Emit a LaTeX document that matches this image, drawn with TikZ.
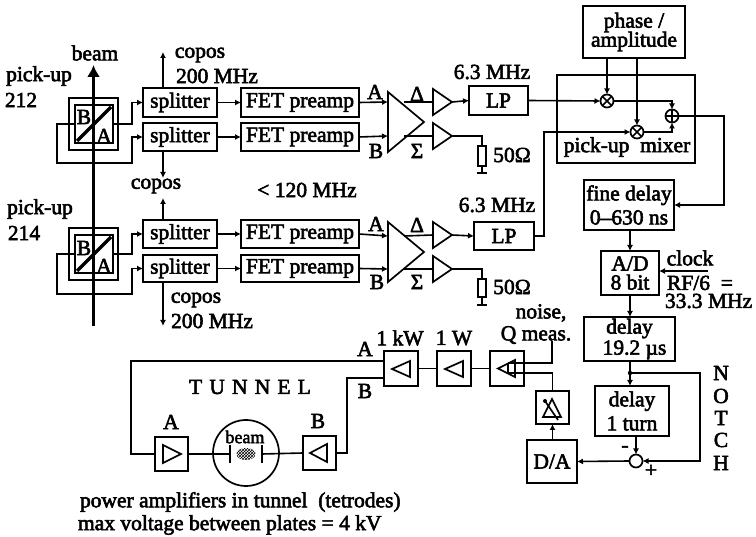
\documentclass[tikz,border=0pt]{standalone}
\usepackage{fontspec}
\setmainfont[FakeBold=2.6]{Liberation Serif}
\usetikzlibrary{arrows.meta,shapes.geometric,patterns,calc}
\newcommand{\bx}[6]{%
  \pgfmathsetmacro{\bxcx}{(#2+#4)/2}\pgfmathsetmacro{\bxcy}{(#3+#5)/2}%
  \pgfmathsetmacro{\bxw}{#4-#2}\pgfmathsetmacro{\bxh}{#5-#3}%
  \node[boxnode,minimum width=\bxw pt,minimum height=\bxh pt] (#1) at (\bxcx,\bxcy) {#6};}
\tikzset{
  every node/.style={font=\fontsize{21.5}{20}\selectfont,inner sep=0pt,outer sep=0pt},
  ln/.style={line width=1.6pt,line join=miter},
  ar/.style={ln,-{Latex[length=6pt,width=6pt]}},
  boxnode/.style={draw,line width=1.7pt,align=center},
  lab/.style={align=center},
  mixnode/.style={draw,circle,line width=1.7pt,minimum size=13pt},
  ampbase/.style={draw,line width=1.7pt,isosceles triangle,isosceles triangle stretches,anchor=apex},
  ampr/.style 2 args={ampbase,minimum width=#1 pt,minimum height=#2 pt},
  ampl/.style 2 args={ampbase,shape border rotate=180,minimum width=#1 pt,minimum height=#2 pt},
}
\begin{document}
\begin{tikzpicture}[x=1pt,y=-1pt]
\useasboundingbox (0,0) rectangle (756,537);
% labels
\node[lab] (pu1a) at (39,76) {pick-up};
\node[lab] (pu1b) at (21,100) {212};
\node[lab] (pu2a) at (40,209) {pick-up};
\node[lab] (pu2b) at (24,233) {214};
\node[lab] (beamlab) at (95,53) {beam};
% pick-up 212
\bx{po1}{69}{98}{118}{150}{}
\bx{pi1}{75}{105}{113}{143}{}
\node (pB1) at (84,117) {B};
\node (pA1) at (104,136) {A};
\coordinate (d1a) at (77,141); \coordinate (d1b) at (111,107);
\draw[line width=3.4pt] (d1a) -- (d1b);
% pick-up 214
\bx{po2}{69}{228}{118}{280}{}
\bx{pi2}{75}{235}{113}{273}{}
\node (pB2) at (84,248) {B};
\node (pA2) at (104,266) {A};
\coordinate (d2a) at (77,271); \coordinate (d2b) at (111,237);
\draw[line width=3.4pt] (d2a) -- (d2b);
% beam
\coordinate (bm0) at (93.5,326); \coordinate (bm1) at (93.5,65);
\draw[line width=2.2pt,-{Latex[length=12pt,width=13pt]}] (bm0) -- (bm1);
% splitters
\bx{sp1}{143}{88}{217}{117}{splitter}
\bx{sp2}{143}{123}{217}{151}{splitter}
\bx{sp3}{143}{220}{217}{248}{splitter}
\bx{sp4}{143}{255}{217}{282}{splitter}
\bx{fe1}{241}{88}{359}{117}{FET preamp}
\bx{fe2}{241}{123}{359}{151}{FET preamp}
\bx{fe3}{241}{220}{359}{248}{FET preamp}
\bx{fe4}{241}{255}{359}{282}{FET preamp}
\foreach \i in {1,2,3,4}{\draw[ar] (sp\i.east) -- (fe\i.west);}
% pick-up connections
\coordinate (a1) at (113,124); \coordinate (l1) at (75,124);
\draw[ar] (a1) -| (132,102.5) -- (sp1.west);
\draw[ar] (l1) -- (57,124) |- (132,163) |- (sp2.west);
\coordinate (a2) at (113,254); \coordinate (l2) at (75,254);
\draw[ar] (a2) -| (132,234) -- (sp3.west);
\draw[ar] (l2) -- (57,254) |- (132,294) |- (sp4.west);
% copos
\coordinate (c1) at (163,52); \coordinate (c2) at (163,178);
\coordinate (c3) at (163,198); \coordinate (c4) at (163,326);
\draw[ar] (sp1.north -| c1) -- (c1);
\draw[ar] (sp2.south -| c2) -- (c2);
\draw[ar] (sp3.north -| c3) -- (c3);
\draw[ar] (sp4.south -| c4) -- (c4);
\node[lab] (cl1) at (200,55) {copos};
\node[lab] (cl1b) at (217,76) {200 MHz};
\node[lab] (cl2) at (156,186) {copos};
\node[lab] (cl4) at (196,300) {copos};
\node[lab] (cl4b) at (212,321) {200 MHz};
\node[lab] (lt) at (307,190) {< 120 MHz};
% differential amps
\foreach \n/\top/\ya/\yb/\yc in {U/92/102/136/122,L/222/236/269/252}{
  \pgfmathsetmacro{\bot}{\top+60}
  \coordinate (t\n) at (388,\top); \coordinate (b\n) at (388,\bot); \coordinate (ap\n) at (424,\yc);
  \draw[line width=1.7pt,line join=miter] (t\n) -- (ap\n) -- (b\n) -- cycle;
  \coordinate (ia\n) at (388,\ya); \coordinate (ib\n) at (388,\yb);
  \coordinate (od\n) at (404,\ya); \coordinate (os\n) at (404,\yb);
}
\draw[ar] (fe1.east) -- (iaU);
\draw[ar] (fe2.east) -- (ibU);
\draw[ar] (fe3.east) -- (iaL);
\draw[ar] (fe4.east) -- (ibL);
\node (lAu) at (375,92) {A}; \node (lBu) at (376,151) {B};
\node (lAl) at (376,224) {A}; \node (lBl) at (377,282) {B};
\node (lDu) at (417,94) {Δ}; \node (lSu) at (417,151) {Σ};
\node (lDl) at (417,225) {Δ}; \node (lSl) at (417,282) {Σ};
% output amps
\node[ampr={26}{19}] (a1d) at (452,102) {};
\node[ampr={26}{19}] (a1s) at (452,136) {};
\node[ampr={26}{19}] (a2d) at (452,235) {};
\node[ampr={26}{19}] (a2s) at (452,269) {};
\draw[ln] (odU) -- (a1d.lower side);
\draw[ln] (osU) -- (a1s.lower side);
\draw[ln] (odL) -- (a2d.lower side);
\draw[ln] (osL) -- (a2s.lower side);
% LP
\bx{lp1}{469}{86}{528}{115}{LP}
\bx{lp2}{474}{222}{534}{250}{LP}
\draw[ar] (a1d.apex) -- (lp1.west);
\draw[ar] (a2d.apex) -- (lp2.west);
\node[lab] (mh1) at (492,72) {6.3 MHz};
\node[lab] (mh2) at (497,205) {6.3 MHz};
% resistors
\bx{r1}{478}{146}{486}{166}{}
\bx{r2}{478}{279}{486}{297}{}
\draw[ln] (a1s.apex) -| (r1.north);
\draw[ln] (a2s.apex) -| (r2.north);
\coordinate (g1) at (482,173); \coordinate (g2) at (482,305);
\draw[ln] (r1.south) -- (g1);
\draw[ln] (r2.south) -- (g2);
\draw[line width=2.2pt] ($(g1)+(-5,0)$) -- ($(g1)+(5,0)$);
\draw[line width=2.2pt] ($(g2)+(-5,0)$) -- ($(g2)+(5,0)$);
\node (ohm1) at (512,155) {50Ω};
\node (ohm2) at (512,287) {50Ω};
% mixer
\bx{mixbox}{557}{75}{695}{163}{}
\node[lab] (mixlab) at (627,147) {pick-up\ \ mixer};
\bx{phase}{583}{6}{685}{58}{phase /\\[-1pt]amplitude}
\node[mixnode] (m1) at (607,101) {}; \draw[ln] (m1.north west) -- (m1.south east) (m1.north east) -- (m1.south west);
\node[mixnode] (m2) at (637,132) {}; \draw[ln] (m2.north west) -- (m2.south east) (m2.north east) -- (m2.south west);
\node[mixnode] (ms) at (672,116) {}; \draw[ln] (ms.north) -- (ms.south) (ms.west) -- (ms.east);
\draw[ar] (phase.south -| m1) -- (m1);
\draw[ar] (phase.south -| m2) -- (m2);
\draw[ar] (lp1.east) -- (m1.west);
\draw[ar] (m1.east) -| (ms.north);
\draw[ar] (m2.east) -| (ms.south);
\coordinate (lc) at (544,132);
\draw[ar] (lp2.east) -| (lc) -- (m2.west);
% digital chain
\bx{fd}{584}{180}{674}{230}{fine delay\\[4pt]0--630 ns}
\bx{adc}{601}{251}{659}{295}{A/D\\[-1pt]8 bit}
\bx{d19}{584}{317}{675}{361}{delay\\[1pt]\hspace*{10pt}19.2 \textmu s}
\bx{d1t}{595}{386}{669}{436}{delay\\[4pt]1 turn}
\coordinate (rout) at (724,116);
\draw[ar] (ms.east) -- (rout) |- (fd.east);
\coordinate (xs) at (630,0);
\draw[ar] (fd.south -| xs) -- (adc.north -| xs);
\draw[ar] (adc.south -| xs) -- (d19.north -| xs);
\draw[ar] (d19.south -| xs) -- (d1t.north -| xs);
\coordinate (clk) at (708,271);
\draw[ar] (clk) -- (clk -| adc.east);
\node[lab] (clk1) at (690,258) {clock};
\node[anchor=west,align=left] (clk2) at (665,292) {\hspace*{2pt}RF/6\ \ =\\[-2pt]33.3 MHz};
\node[draw,circle,line width=1.7pt,minimum size=13pt] (sub) at (636,461) {};
\coordinate (jn) at (630,373);
\fill (jn) circle (2.2pt);
\draw[ar] (jn) -- (700,373) |- (sub.east);
\draw[ar] (d1t.south -| sub) -- (sub.north);
\node (minus) at (625,449) {-};
\node (plus) at (651,471) {+};
\bx{da}{527}{440}{577}{483}{D/A}
\draw[ar] (sub.west) -- (da.east);
\bx{att}{536}{391}{569}{424}{}
\draw[ar] (da.north -| att) -- (att.south);
\coordinate (t1) at (552,399); \coordinate (t2) at (543,417); \coordinate (t3) at (561,417);
\draw[line width=1.7pt] (t1) -- (t2) -- (t3) -- cycle;
\coordinate (d1) at (545,401); \coordinate (d2) at (558,420);
\draw[line width=1.7pt] (d1) -- (d2);
\fill (d1) circle (2pt);
% power chain
\bx{qb}{490}{351}{524}{386}{}
\bx{wb}{437}{351}{471}{386}{}
\bx{kb}{384}{351}{418}{386}{}
\node[ampl={17}{17}] (q1) at (498,368.5) {};
\node[ampl={16}{18}] (w1) at (445,369) {};
\node[ampl={16}{18}] (k1) at (392,369) {};
\draw[ln] (qb.west) -- (wb.east);
\draw[ln] (wb.west) -- (kb.east);
\coordinate (qa) at (508,363); \coordinate (qn) at (552,341);
\coordinate (qc) at (508,373);
\draw[ln] (qa) -| (qn);
\draw[ln] (qc) -| (att.north);
\draw[ln] (qa) -- (qc);
\node[lab] (ll1) at (400,338) {1 kW};
\node[lab] (ll2) at (454,338) {1 W};
\node[lab] (ll3) at (541,313) {noise,};
\node[lab] (ll4) at (536,335) {Q meas.};
\node (kA) at (365,349) {A};
\node (kB) at (365,391) {B};
% tunnel
\node (tun) at (250,387) {T\,\,U\,\,N\,\,N\,\,E\,\,L};
\bx{ba}{155}{437}{188}{471}{}
\bx{bb}{303}{436}{336}{470}{}
\node[draw,circle,line width=1.7pt,minimum size=66pt] (bc) at (246,453) {};
\coordinate (pl1) at (230,454); \coordinate (pl2) at (262,454);
\draw[line width=2.2pt] ($(pl1)+(0,-9)$) -- ($(pl1)+(0,9)$);
\draw[line width=2.2pt] ($(pl2)+(0,-9)$) -- ($(pl2)+(0,9)$);
\draw[ln] (ba.east) -- (pl1);
\draw[ln] (pl2) -- (bb.west);
\node[ellipse,minimum width=19pt,minimum height=12pt,pattern=crosshatch] (bunch) at (246,454) {};
\node (beam2) at (245,437) {\fontsize{18}{18}\selectfont beam};
\node[ampr={18}{18}] (ta) at (181,454) {};
\node[ampl={18}{17}] (tb) at (310,453) {};
\node (tA) at (171,422) {A};
\node (tB) at (318,421) {B};
\coordinate (k1a) at (384,361); \coordinate (k1b) at (384,378);
\draw[ln] (k1a) -- (131,361) |- (ba.west);
\draw[ln] (k1b) -- (347,378) |- (bb.east);
\node[anchor=west] (cap1) at (80,502) {power amplifiers in tunnel\ \ (tetrodes)};
\node[anchor=west] (cap2) at (78,525) {max voltage between plates = 4 kV};
% notch
\foreach \c/\y in {N/373,O/396,T/418,C/440,H/463}{\node (n\c) at (721,\y) {\c};}
\end{tikzpicture}
\end{document}
